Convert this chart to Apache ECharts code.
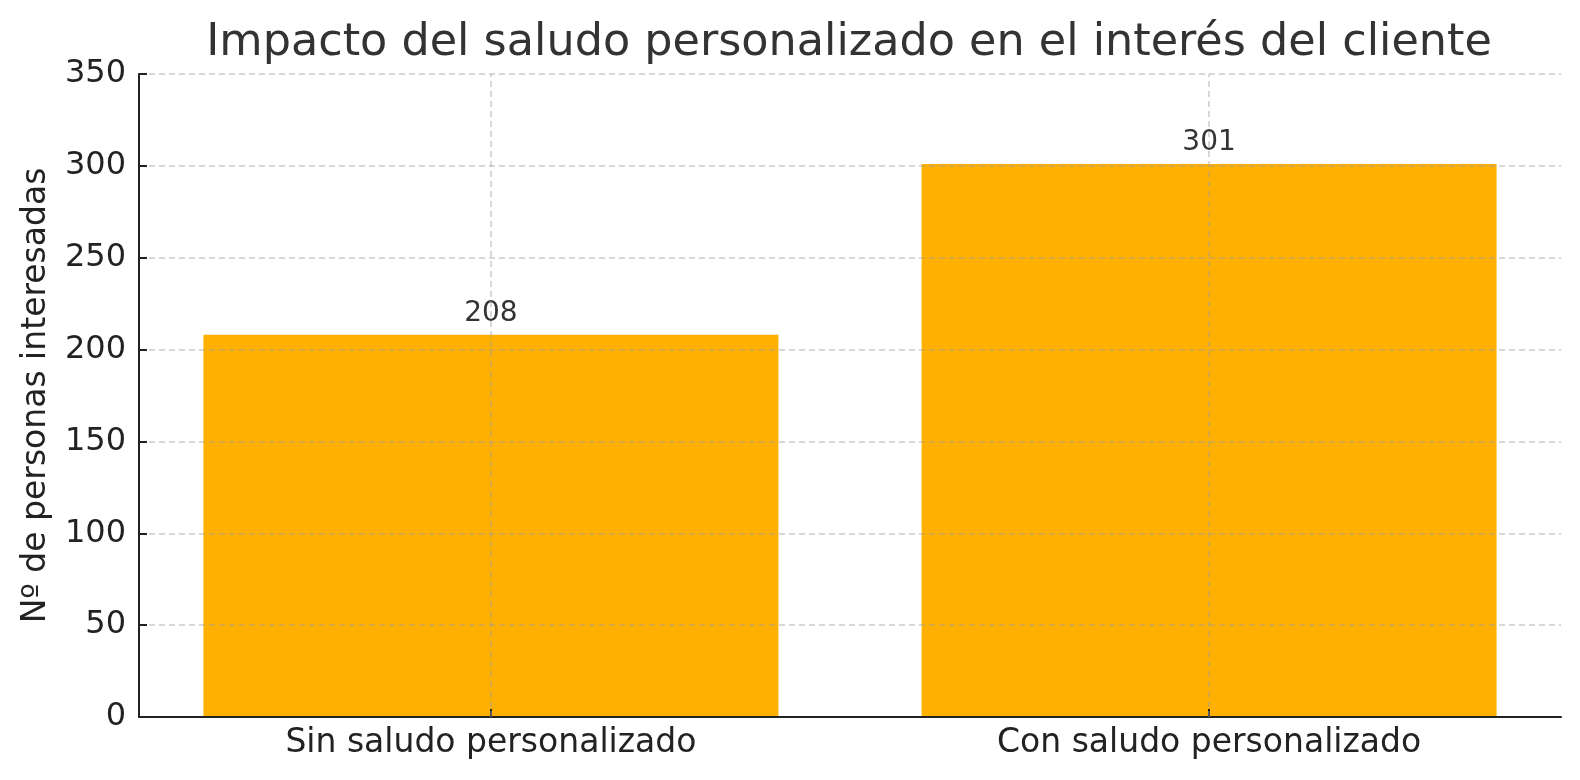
<!DOCTYPE html>
<html>
<head>
<meta charset="utf-8">
<script src="https://cdn.jsdelivr.net/npm/echarts@6/dist/echarts.min.js"></script>
<style>
html,body{margin:0;padding:0;background:#fff;}
#chart{width:1580px;height:780px;}
</style>
</head>
<body>
<div id="chart"></div>
<script>
const titleText = 'Impacto del saludo personalizado en el interés del cliente';
const yAxisName = 'Nº de personas interesadas';
const categories = ['Sin saludo personalizado', 'Con saludo personalizado'];
const values = [208, 301];
const yTicks = {min: 0, max: 350, interval: 50};
const xRange = {min: -0.49, max: 1.49};

const FONT = 'DejaVu Sans';
const positions = categories.map((c, i) => i);
const barData = values.map((v, i) => [positions[i], v]);
const gridColor = 'rgba(160,160,160,0.55)';

const chart = echarts.init(document.getElementById('chart'));
chart.setOption({
  animation: false,
  backgroundColor: '#ffffff',
  title: {
    text: titleText,
    left: 849,
    top: 21,
    padding: 0,
    textAlign: 'center',
    textStyle: {fontFamily: FONT, fontSize: 44.5, fontWeight: 'normal', color: '#333333'}
  },
  grid: {left: 139, right: 19, top: 74, bottom: 63, containLabel: false},
  xAxis: {
    type: 'value',
    min: xRange.min,
    max: xRange.max,
    z: 3,
    axisLine: {show: true, onZero: false, lineStyle: {color: '#222222', width: 2}},
    axisTick: {show: true, inside: true, length: 8, customValues: positions, lineStyle: {color: '#222222', width: 2}},
    axisLabel: {fontFamily: FONT, fontSize: 33, color: '#222222', margin: 10, customValues: positions,
      formatter: v => categories[Math.round(v)]},
    splitLine: {show: false}
  },
  yAxis: {
    type: 'value',
    min: yTicks.min,
    max: yTicks.max,
    interval: yTicks.interval,
    z: 3,
    name: yAxisName,
    nameLocation: 'middle',
    nameGap: 86,
    nameTextStyle: {fontFamily: FONT, fontSize: 33, color: '#222222'},
    axisLine: {show: true, onZero: false, lineStyle: {color: '#222222', width: 2}},
    axisTick: {show: true, inside: true, length: 8, lineStyle: {color: '#222222', width: 2}},
    axisLabel: {fontFamily: FONT, fontSize: 32, color: '#222222', margin: 13, padding: [6, 0, 0, 0]},
    splitLine: {show: true, lineStyle: {color: gridColor, width: 1.5, type: [6, 4]}}
  },
  series: [{
    type: 'bar',
    data: barData,
    barWidth: 575,
    itemStyle: {color: '#FFB000'},
    label: {show: true, position: 'top', distance: 7, fontFamily: FONT, fontSize: 28, color: '#333333',
      formatter: p => p.value[1]},
    markLine: {
      silent: true,
      symbol: 'none',
      label: {show: false},
      lineStyle: {color: gridColor, width: 1.5, type: [6, 4]},
      data: positions.map(p => ({xAxis: p}))
    }
  }]
});
</script>
</body>
</html>
